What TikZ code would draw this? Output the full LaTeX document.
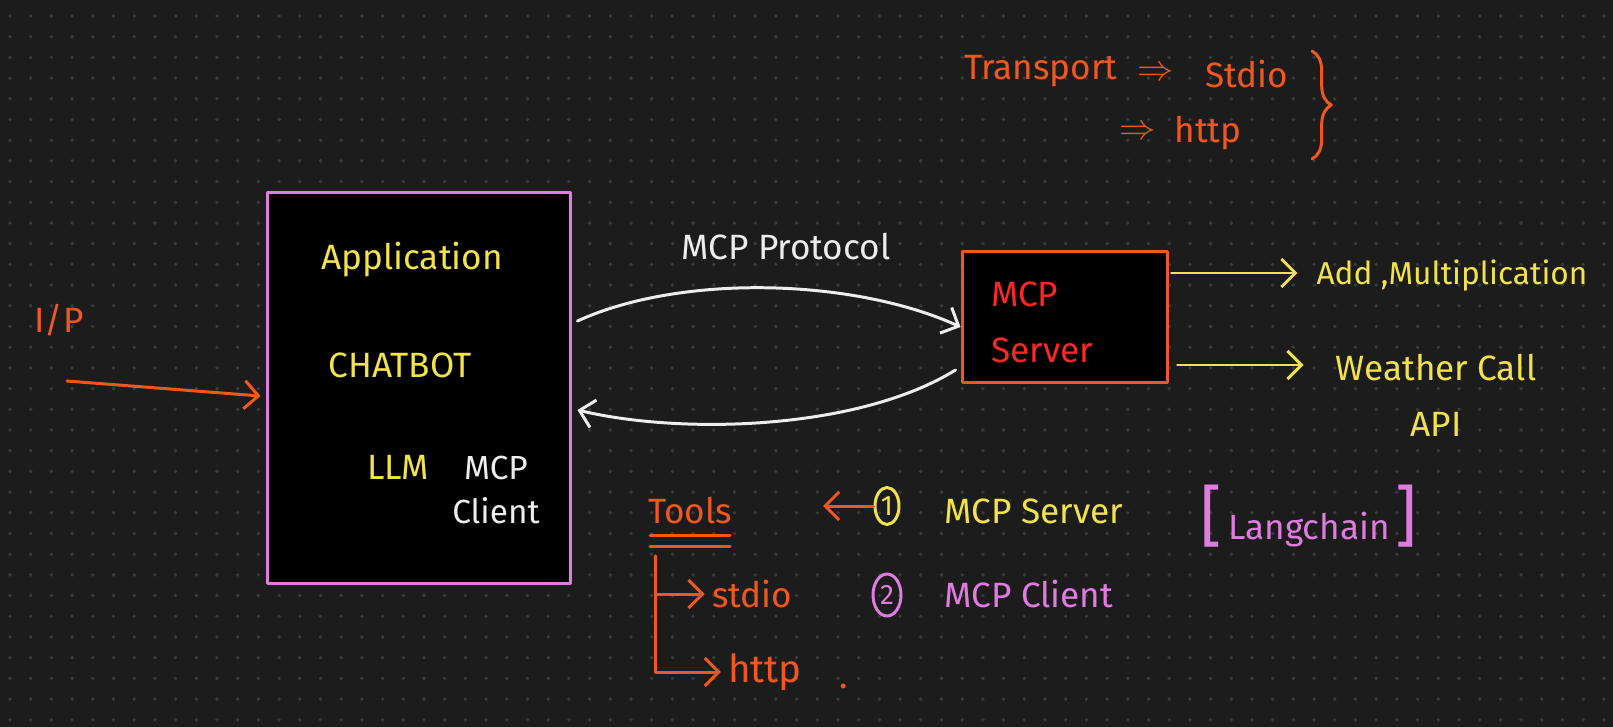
\documentclass[tikz,border=0pt]{standalone}
\usepackage{fontspec}
\setmainfont{Fira Sans}
\usetikzlibrary{positioning, calc, arrows.meta, shapes.geometric, decorations.pathreplacing}

\definecolor{boardbg}{HTML}{1C1C1C}
\definecolor{boarddot}{HTML}{3A3A3A}
\definecolor{inkorange}{HTML}{F2581E}
\definecolor{inkyellow}{HTML}{F2E34B}
\definecolor{inkpink}{HTML}{E07CE0}
\definecolor{inkred}{HTML}{FF2626}
\definecolor{inkwhite}{HTML}{EDEDED}

\begin{document}
\begin{tikzpicture}[x=0.02cm, y=-0.02cm, line cap=round, line join=round,
  box/.style = {draw, fill=black, line width=1.7pt, inner sep=0pt},
  hand/.style = {inner sep=1pt, font=\fontsize{20}{24}\selectfont},
  pen/.style = {line width=1.7pt},
  barb/.style = {pen, -{Straight Barb[length=8pt, width=16pt]}},
  numcirc/.style = {draw, pen, ellipse, inner sep=0pt, font=\fontsize{16}{16}\selectfont}
]

%--- Board ---
\fill[boardbg] (0,0) rectangle (1613,727);
\foreach \i in {0,...,77}
  \foreach \j in {0,...,34}
    \fill[boarddot] (10+\i*20.7, 16+\j*20.7) circle (1.1pt);

%--- Boxes ---
% app
\node[box, draw=inkpink, minimum width=6.08cm, minimum height=7.82cm] (app) at (419,388) {};
\node[hand, inkyellow] (application) at (412,260) {Application};
\node[hand, inkyellow] (chatbot) at (400,365) {CHATBOT};
\node[hand, inkyellow] (llm) at (398,467) {LLM};
\node[hand, inkwhite, align=center, font=\fontsize{19}{25}\selectfont] (client) at (496,490) {MCP\\Client};

% server
\node[box, draw=inkorange, minimum width=4.12cm, minimum height=2.62cm] (server) at (1065,317) {};
\node[hand, inkred, align=left, font=\fontsize{20}{32}\selectfont] (servertext) at (1042,322) {MCP\\Server};

%--- Protocol ---
\node[hand, inkwhite] (protocol) at (786,247) {MCP Protocol};
\draw[barb, inkwhite] ($(app.east)+(5,-67)$) .. controls +(105,-48) and +(-105,-48) .. ($(server.west)+(0,10)$);
\draw[barb, inkwhite] ($(server.west)+(-5,53)$) .. controls +(-97,60) and +(105,25) .. ($(app.east)+(5,22)$);

%--- Input ---
\node[hand, inkorange] (ip) at (59,320) {I/P};
\coordinate (ipstart) at (67,381);
\draw[barb, inkorange] (ipstart) -- ($(app.west)+(-5,8)$);

%--- Server outputs ---
\node[hand, inkyellow, font=\fontsize{18}{22}\selectfont] (add) at (1452,276) {Add ,Multiplication};
\node[hand, inkyellow] (weather) at (1436,368) {Weather Call};
\node[hand, inkyellow, below=15pt of weather] (api) {API};
\draw[barb, inkyellow] ($(server.east)+(2,-44)$) -- ($(add.west)+(-17,-3)$);
\draw[barb, inkyellow] ($(server.east)+(8,48)$) -- ($(weather.west)+(-30,-3)$);

%--- Transport ---
\node[hand, inkorange] (transport) at (1041,71) {Transport};
\node[hand, inkorange] (arrstdio) at (1156,74) {$\Rightarrow$};
\node[hand, inkorange] (stdio1) at (1247,74) {Stdio};
\node[hand, inkorange] (arrhttp) at (1138,133) {$\Rightarrow$};
\node[hand, inkorange] (http1) at (1208,133) {http};
\draw[pen, inkorange, decorate, decoration={brace, amplitude=11pt}] (1312,51) -- (1312,159);

%--- Tools ---
\node[hand, inkorange] (tools) at (690,511) {Tools};
\draw[pen, inkorange] (650,535) -- (730,535);
\draw[pen, inkorange] (650,546) -- (730,546);
\node[hand, inkorange] (stdio) at (752,594) {stdio};
\node[hand, inkorange, font=\fontsize{22}{24}\selectfont] (http) at (765,672) {http};
\node[inkorange, font=\fontsize{20}{24}\selectfont] (dot) at (844,686) {.};
\coordinate (treetop) at (655,556);
\draw[barb, inkorange] (treetop) |- ([xshift=-3pt]stdio.west);
\draw[barb, inkorange] (treetop) |- ([xshift=-3pt]http.west);

%--- Server / client ---
\node[numcirc, inkyellow, minimum width=0.48cm, minimum height=0.74cm] (one) at (887,506) {1};
\node[hand, inkyellow] (mcpserver) at (1034,511) {MCP Server};
\node[numcirc, inkpink, minimum width=0.56cm, minimum height=0.84cm] (two) at (887,595) {2};
\node[hand, inkpink] (mcpclient) at (1029,594) {MCP Client};
\coordinate (toolsin) at (823,506);
\draw[barb, inkorange] (one.west) -- (toolsin);

\node[hand, inkpink] (langchain) at (1309,516) {{\fontsize{38}{38}\selectfont[}\,Langchain\,{\fontsize{38}{38}\selectfont]}};

\end{tikzpicture}
\end{document}
